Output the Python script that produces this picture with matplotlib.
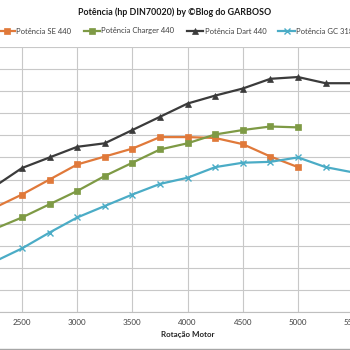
import matplotlib
matplotlib.use("Agg")
import matplotlib.pyplot as plt
from matplotlib.lines import Line2D

plt.rcParams['font.family'] = ['Lato', 'DejaVu Sans']

# Rotação (rpm) e potência (hp DIN)
rpm = [2250, 2500, 2750, 3000, 3250, 3500, 3750, 4000, 4250, 4500, 4750, 5000, 5250, 5500]
se_440 = [118, 133, 150, 167, 176, 185, 198, 198, 197, 190, 176, 164]
charger_440 = [94, 107, 122, 137, 154, 169, 184, 191, 201, 206, 210, 209]
dart_440 = [142, 163, 175, 187, 191, 206, 221, 236, 245, 253, 264, 266, 259, 259]
gc_318 = [57, 72, 90, 107, 120, 133, 145, 152, 164, 169, 170, 175, 164, 158]
xticks = [2500, 3000, 3500, 4000, 4500, 5000, 5500]

series = [
    ("Potência SE 440", se_440, "#E0793A", "s"),
    ("Potência Charger 440", charger_440, "#7E9A45", "s"),
    ("Potência Dart 440", dart_440, "#3B3B3B", "^"),
    ("Potência GC 318", gc_318, "#4BACC6", "x"),
]

fig = plt.figure(figsize=(3.5, 3.5), dpi=100)
# plot area is wider than the picture (the chart is cropped left and right)
ax = fig.add_axes([-33.2 / 350, 38 / 350, 441.6 / 350, 265 / 350])

for name, vals, color, mk in series:
    ax.plot(rpm[:len(vals)], vals, color=color, lw=1.6, marker=mk,
            markersize=4.8, mew=1.0 if mk == "x" else 0.5,
            markeredgecolor=color, label=name)

ax.set_xlim(2000, 6000)
ax.set_ylim(0, 300)
ax.set_yticks(range(0, 301, 25))
ax.set_xticks(xticks)
ax.set_xticklabels([str(x) for x in xticks], fontsize=5.8, color="#404040")
ax.tick_params(length=0, pad=5, labelleft=False)
ax.grid(True, color="#C8C8C8", lw=0.8)
ax.set_axisbelow(True)
for s in ["top", "left", "right"]:
    ax.spines[s].set_visible(False)
ax.spines["bottom"].set_color("#BFBFBF")

ax.text(4000, -26, "Rotação Motor", ha="center", va="center", fontsize=5.8,
        fontweight="bold", color="#262626")

fig.text(0.5, 1 - 12 / 350, "Potência (hp DIN70020) by ©Blog do GARBOSO",
         ha="center", va="center", fontsize=6.4, fontweight="bold", color="#1A1A1A")

fig.legend(loc="center", bbox_to_anchor=(176 / 350, 1 - 31 / 350), ncol=4,
           frameon=False, fontsize=5.5, handlelength=2.2, handletextpad=0.15,
           columnspacing=1.6, labelcolor="#404040")

fig.add_artist(Line2D([0, 1], [1 - 348.5 / 350] * 2, color="#A6A6A6", lw=1.0))

fig.savefig("out.png", dpi=100)
